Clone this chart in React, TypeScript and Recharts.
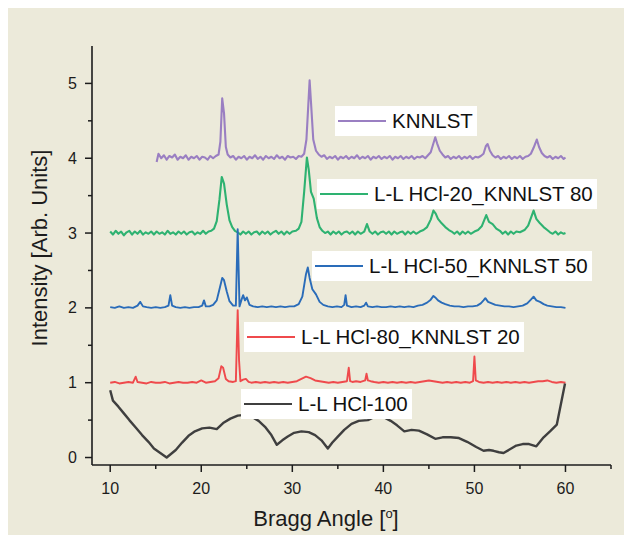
import { LineChart, Line, XAxis, YAxis } from 'recharts'

// 2θ (deg) / offset intensity pairs
const knnlst: [number, number][] = [
  [15.1,3.95],[15.3,4.06],[15.6,4.00],[15.9,4.04],[16.2,3.98],[16.5,4.03],[16.8,4.01],[17.1,4.05],[17.4,3.98],[17.7,4.02],
  [18.0,4.00],[18.3,4.04],[18.6,3.98],[18.9,4.02],[19.2,4.00],[19.5,4.03],[19.8,3.98],[20.1,4.02],[20.4,4.01],[20.7,3.98],
  [21.0,4.03],[21.3,4.00],[21.6,4.03],[21.9,4.05],[22.1,4.22],[22.3,4.80],[22.5,4.60],[22.7,4.15],[22.9,4.05],[23.2,4.01],
  [23.5,4.03],[23.8,3.98],[24.1,4.02],[24.4,4.00],[24.7,4.03],[25.0,3.98],[25.3,4.02],[25.6,4.00],[25.9,4.04],[26.2,3.99],
  [26.5,4.02],[26.8,3.98],[27.1,4.03],[27.4,4.00],[27.7,4.02],[28.0,3.99],[28.3,4.04],[28.6,4.00],[28.9,4.02],[29.2,3.98],
  [29.5,4.03],[29.8,4.01],[30.1,4.02],[30.4,3.99],[30.7,4.03],[31.0,4.02],[31.3,4.06],[31.55,4.25],[31.75,4.70],[31.9,5.04],
  [32.05,4.75],[32.3,4.25],[32.6,4.10],[32.9,4.05],[33.2,4.02],[33.5,4.04],[33.8,3.99],[34.1,4.02],[34.4,4.00],[34.7,4.03],
  [35.0,3.98],[35.3,4.02],[35.6,4.00],[35.9,4.03],[36.2,3.99],[36.5,4.02],[36.8,4.00],[37.1,4.04],[37.4,3.99],[37.7,4.02],
  [38.0,4.00],[38.3,4.03],[38.6,3.98],[38.9,4.02],[39.2,4.00],[39.5,4.03],[39.8,3.99],[40.1,4.02],[40.4,4.00],[40.7,4.03],
  [41.0,3.98],[41.3,4.02],[41.6,4.00],[41.9,4.03],[42.2,3.99],[42.5,4.02],[42.8,4.00],[43.1,4.03],[43.4,3.99],[43.7,4.02],
  [44.0,4.01],[44.3,4.03],[44.6,4.00],[44.9,4.04],[45.2,4.08],[45.45,4.18],[45.7,4.28],[45.9,4.20],[46.2,4.10],[46.5,4.05],
  [46.8,4.01],[47.1,4.03],[47.4,3.99],[47.7,4.02],[48.0,4.00],[48.3,4.03],[48.6,3.99],[48.9,4.02],[49.2,4.00],[49.5,4.03],
  [49.8,3.99],[50.1,4.02],[50.4,4.01],[50.7,4.03],[51.0,4.06],[51.25,4.16],[51.45,4.19],[51.7,4.10],[52.0,4.04],[52.3,4.01],
  [52.6,4.03],[52.9,3.99],[53.2,4.02],[53.5,4.00],[53.8,4.03],[54.1,3.99],[54.4,4.02],[54.7,4.00],[55.0,4.03],[55.3,3.99],
  [55.6,4.02],[55.9,4.03],[56.2,4.06],[56.5,4.14],[56.85,4.25],[57.1,4.15],[57.4,4.07],[57.7,4.03],[58.0,4.01],[58.3,4.03],
  [58.6,3.99],[58.9,4.02],[59.2,4.00],[59.5,4.03],[59.8,3.99],[60.0,4.01],
]

const hcl20: [number, number][] = [
  [10.0,3.02],[10.3,2.98],[10.6,3.03],[10.9,2.99],[11.2,3.02],[11.5,2.97],[11.8,3.01],[12.1,3.03],[12.4,2.98],[12.7,3.02],
  [13.0,2.99],[13.3,3.03],[13.6,2.98],[13.9,3.01],[14.2,2.99],[14.5,3.02],[14.8,2.98],[15.1,3.02],[15.4,2.99],[15.7,3.01],
  [16.0,2.98],[16.3,3.03],[16.6,2.99],[16.9,3.01],[17.2,2.98],[17.5,3.02],[17.8,2.99],[18.1,3.02],[18.4,2.98],[18.7,3.01],
  [19.0,3.02],[19.3,2.98],[19.6,3.01],[19.9,2.99],[20.2,3.03],[20.5,2.99],[20.8,3.02],[21.1,3.03],[21.4,3.06],[21.7,3.16],
  [22.0,3.45],[22.25,3.75],[22.5,3.66],[22.8,3.38],[23.1,3.17],[23.4,3.08],[23.7,3.03],[24.0,3.01],[24.3,2.98],[24.6,3.02],
  [24.9,2.99],[25.2,3.02],[25.5,2.98],[25.8,3.01],[26.1,3.02],[26.4,2.98],[26.7,3.02],[27.0,2.99],[27.3,3.02],[27.6,2.98],
  [27.9,3.01],[28.2,3.03],[28.5,2.99],[28.8,3.02],[29.1,2.98],[29.4,3.02],[29.7,2.99],[30.0,3.02],[30.4,3.03],[30.7,3.06],
  [31.0,3.15],[31.3,3.55],[31.6,4.01],[31.8,3.85],[32.05,3.55],[32.35,3.46],[32.7,3.20],[33.0,3.08],[33.3,3.03],[33.6,3.00],
  [33.9,3.02],[34.2,2.98],[34.5,3.02],[34.8,2.99],[35.1,3.02],[35.4,2.98],[35.7,3.01],[36.0,3.02],[36.3,2.99],[36.6,3.02],
  [36.9,2.98],[37.2,3.02],[37.5,2.99],[37.9,3.02],[38.2,3.12],[38.5,3.02],[38.8,2.99],[39.1,3.02],[39.4,2.98],[39.7,3.01],
  [40.0,3.02],[40.3,2.99],[40.6,3.02],[40.9,2.98],[41.2,3.02],[41.5,2.99],[41.8,3.01],[42.1,3.02],[42.4,2.98],[42.7,3.02],
  [43.0,2.99],[43.3,3.02],[43.6,2.99],[44.0,3.02],[44.4,3.04],[44.8,3.08],[45.2,3.18],[45.5,3.30],[45.75,3.26],[46.0,3.19],
  [46.4,3.13],[46.8,3.08],[47.2,3.04],[47.5,3.02],[47.8,2.99],[48.1,3.02],[48.4,2.98],[48.7,3.02],[49.0,2.99],[49.3,3.02],
  [49.6,2.99],[50.0,3.02],[50.4,3.04],[50.8,3.09],[51.1,3.18],[51.3,3.24],[51.6,3.15],[52.0,3.12],[52.4,3.06],[52.8,3.03],
  [53.1,2.99],[53.4,3.02],[53.7,2.98],[54.0,3.02],[54.3,2.99],[54.6,3.02],[55.0,3.01],[55.5,3.04],[55.9,3.10],[56.2,3.20],
  [56.5,3.30],[56.8,3.19],[57.2,3.13],[57.6,3.08],[58.0,3.04],[58.3,3.01],[58.6,2.99],[58.9,3.02],[59.2,2.98],[59.5,3.01],
  [59.8,2.99],[60.0,3.00],
]

const hcl50: [number, number][] = [
  [10.0,2.01],[10.5,2.00],[11.0,2.02],[11.5,2.00],[12.0,2.01],[12.5,2.00],[13.0,2.03],[13.3,2.08],[13.6,2.02],[14.0,2.01],
  [14.5,2.00],[15.0,2.01],[15.5,2.00],[16.0,2.01],[16.4,2.03],[16.6,2.17],[16.8,2.03],[17.2,2.01],[17.7,2.00],[18.2,2.01],
  [18.7,2.00],[19.2,2.01],[19.7,2.01],[20.1,2.03],[20.3,2.10],[20.5,2.02],[20.9,2.02],[21.3,2.04],[21.7,2.10],[22.0,2.25],
  [22.3,2.40],[22.5,2.37],[22.8,2.22],[23.1,2.09],[23.5,2.03],[23.8,2.03],[24.0,3.05],[24.2,2.02],[24.45,2.12],[24.6,2.17],
  [24.8,2.10],[25.0,2.14],[25.3,2.04],[25.7,2.02],[26.2,2.01],[26.7,2.02],[27.2,2.01],[27.7,2.02],[28.2,2.01],[28.7,2.02],
  [29.2,2.01],[29.7,2.02],[30.2,2.02],[30.7,2.05],[31.1,2.15],[31.5,2.45],[31.7,2.54],[31.9,2.40],[32.2,2.25],[32.6,2.18],
  [33.0,2.08],[33.4,2.04],[33.9,2.02],[34.4,2.01],[34.9,2.02],[35.4,2.01],[35.7,2.04],[35.85,2.17],[36.0,2.03],[36.5,2.01],
  [37.0,2.02],[37.5,2.01],[37.9,2.03],[38.1,2.07],[38.3,2.02],[38.8,2.01],[39.3,2.02],[39.8,2.01],[40.3,2.01],[40.8,2.02],
  [41.3,2.01],[41.8,2.02],[42.3,2.01],[42.8,2.02],[43.3,2.01],[43.8,2.03],[44.3,2.04],[44.8,2.07],[45.2,2.11],[45.5,2.16],
  [45.7,2.14],[46.0,2.10],[46.4,2.07],[46.8,2.05],[47.3,2.03],[47.8,2.02],[48.3,2.02],[48.8,2.01],[49.3,2.02],[49.8,2.02],
  [50.3,2.03],[50.7,2.06],[51.0,2.10],[51.2,2.13],[51.5,2.08],[51.9,2.06],[52.3,2.04],[52.8,2.03],[53.3,2.02],[53.8,2.02],
  [54.3,2.01],[54.8,2.02],[55.3,2.03],[55.8,2.06],[56.2,2.11],[56.5,2.15],[56.8,2.10],[57.2,2.08],[57.6,2.05],[58.0,2.03],
  [58.5,2.02],[59.0,2.01],[59.5,2.01],[60.0,2.00],
]

const hcl80: [number, number][] = [
  [10.0,1.00],[10.5,1.01],[11.0,0.99],[11.5,1.00],[12.0,1.01],[12.5,1.00],[12.8,1.08],[13.0,1.01],[13.5,1.00],[14.0,0.99],
  [14.5,1.01],[15.0,1.00],[15.5,1.00],[16.0,1.01],[16.5,0.99],[17.0,1.00],[17.5,1.01],[18.0,1.00],[18.5,1.00],[19.0,1.01],
  [19.5,1.00],[20.0,1.03],[20.5,1.00],[21.0,1.01],[21.5,1.02],[21.9,1.06],[22.2,1.22],[22.4,1.20],[22.7,1.05],[23.0,1.02],
  [23.5,1.01],[23.8,1.02],[24.0,1.97],[24.15,1.30],[24.3,1.02],[24.6,1.04],[24.9,1.05],[25.2,1.01],[25.5,1.00],[26.0,1.01],
  [26.5,1.00],[27.0,1.01],[27.5,1.00],[28.0,1.01],[28.5,1.00],[29.0,1.01],[29.5,1.00],[30.0,1.01],[30.5,1.02],[31.0,1.05],
  [31.5,1.08],[32.0,1.06],[32.5,1.03],[33.0,1.02],[33.5,1.01],[34.0,1.00],[34.5,1.01],[35.0,1.00],[35.5,1.01],[36.0,1.02],
  [36.2,1.20],[36.35,1.02],[36.6,1.01],[37.0,1.02],[37.5,1.01],[38.0,1.03],[38.15,1.12],[38.3,1.03],[38.6,1.02],[39.0,1.01],
  [39.5,1.00],[40.0,1.01],[40.5,1.00],[41.0,1.01],[41.5,1.00],[42.0,1.01],[42.5,1.00],[43.0,1.01],[43.5,1.00],[44.0,1.01],
  [44.5,1.02],[45.0,1.03],[45.5,1.02],[46.0,1.01],[46.5,1.00],[47.0,1.01],[47.5,1.00],[48.0,1.01],[48.5,1.00],[49.0,1.01],
  [49.5,1.00],[49.85,1.02],[50.0,1.35],[50.15,1.03],[50.5,1.01],[51.0,1.00],[51.5,1.01],[52.0,1.00],[52.5,1.01],[53.0,1.00],
  [53.5,1.01],[54.0,1.00],[54.5,1.01],[55.0,1.00],[55.5,1.01],[56.0,1.00],[56.5,1.01],[57.0,1.02],[57.5,1.02],[58.0,1.03],
  [58.5,1.01],[59.0,1.00],[59.5,1.01],[60.0,1.00],
]

const hcl100: [number, number][] = [
  [10.0,0.90],[10.3,0.76],[10.9,0.68],[11.5,0.59],[12.1,0.50],[12.8,0.40],[13.5,0.30],[14.2,0.21],[14.8,0.12],[15.5,0.06],
  [16.2,0.00],[16.7,0.05],[17.2,0.10],[17.9,0.20],[18.6,0.29],[19.3,0.35],[20.1,0.39],[20.9,0.40],[21.7,0.38],[22.4,0.46],
  [23.2,0.52],[24.0,0.56],[24.8,0.57],[25.5,0.55],[26.3,0.49],[27.0,0.41],[27.7,0.30],[28.3,0.17],[28.9,0.23],[29.5,0.28],
  [30.2,0.33],[31.0,0.35],[31.8,0.34],[32.5,0.30],[33.2,0.23],[33.9,0.12],[34.4,0.20],[35.0,0.28],[35.7,0.37],[36.5,0.45],
  [37.3,0.49],[38.3,0.50],[38.8,0.53],[39.5,0.55],[40.2,0.53],[40.8,0.49],[41.5,0.43],[42.3,0.35],[43.1,0.37],[43.9,0.36],
  [44.8,0.31],[45.7,0.25],[46.5,0.27],[47.4,0.27],[48.3,0.26],[49.2,0.21],[50.2,0.14],[51.0,0.09],[51.6,0.10],[52.1,0.09],
  [52.7,0.07],[53.2,0.06],[53.9,0.11],[54.6,0.16],[55.3,0.18],[56.0,0.18],[56.8,0.15],[57.6,0.27],[58.3,0.35],[59.05,0.44],
  [59.95,0.99],
]

const xTicks = [10, 15, 20, 25, 30, 35, 40, 45, 50, 55, 60, 65]
const yTicks = [0, 0.5, 1, 1.5, 2, 2.5, 3, 3.5, 4, 4.5, 5]

const SERIES = [
  { name: 'KNNLST', points: knnlst, color: '#9a7fc2', width: 2.1 },
  { name: 'L-L HCl-20_KNNLST 80', points: hcl20, color: '#2eb271', width: 2.1 },
  { name: 'L-L HCl-50_KNNLST 50', points: hcl50, color: '#2a6cb9', width: 1.9 },
  { name: 'L-L HCl-80_KNNLST 20', points: hcl80, color: '#ef4a4c', width: 1.9 },
  { name: 'L-L HCl-100', points: hcl100, color: '#3f3f3f', width: 2.4 },
]

// legend boxes sit next to their curves
const LEGEND_POS = [
  { left: 327, top: 98 },
  { left: 309, top: 171 },
  { left: 304, top: 243 },
  { left: 236, top: 314 },
  { left: 233, top: 381 },
]

const FONT = '"Liberation Sans", Arial, sans-serif'
const INK = '#1c1c1c'
const BG = '#eceada'

const isMajor = (v: number) => Number.isInteger(v) && (v >= 10 ? v % 10 === 0 : true)

const BottomTick = ({ x, y, payload }: any) => {
  const v = payload.value
  const major = v % 10 === 0
  return (
    <g>
      <line x1={x} x2={x} y1={y} y2={y + (major ? 7 : 4)} stroke={INK} strokeWidth={1.5} />
      {major && (
        <text x={x} y={y + 23} textAnchor="middle" dominantBaseline="central" fontSize={16} fill={INK} fontFamily={FONT}>
          {v}
        </text>
      )}
    </g>
  )
}

const TopTick = ({ x, y, payload }: any) => {
  const major = payload.value % 10 === 0
  return <line x1={x} x2={x} y1={y} y2={y + (major ? 6 : 4)} stroke={INK} strokeWidth={1.5} />
}

const LeftTick = ({ x, y, payload }: any) => {
  const v = payload.value
  const major = isMajor(v)
  return (
    <g>
      <line x1={x} x2={x - (major ? 7 : 4)} y1={y} y2={y} stroke={INK} strokeWidth={1.5} />
      {major && (
        <text x={x - 15} y={y} textAnchor="end" dominantBaseline="central" fontSize={16} fill={INK} fontFamily={FONT}>
          {v}
        </text>
      )}
    </g>
  )
}

const RightTick = ({ x, y, payload }: any) => {
  const major = isMajor(payload.value)
  return <line x1={x} x2={x - (major ? 6 : 4)} y1={y} y2={y} stroke={INK} strokeWidth={1.5} />
}

export default function App() {
  return (
    <div style={{ position: 'relative', width: 624, height: 527, background: BG, fontFamily: FONT }}>
      <LineChart width={624} height={527} margin={{ top: 38, right: 21, bottom: 30, left: 34 }}>
        <XAxis
          xAxisId="b" type="number" dataKey="x" domain={[8, 65]} ticks={xTicks} interval={0}
          height={40} tickSize={0} tickMargin={0} tickLine={false} tick={<BottomTick />}
          axisLine={{ stroke: INK, strokeWidth: 1.6 }} allowDataOverflow
        />
        <XAxis
          xAxisId="t" orientation="top" type="number" dataKey="x" domain={[8, 65]} ticks={xTicks} interval={0}
          height={0} tickSize={0} tickMargin={0} tickLine={false} tick={<TopTick />}
          axisLine={{ stroke: INK, strokeWidth: 1.6 }} allowDataOverflow
        />
        <YAxis
          yAxisId="l" type="number" domain={[-0.1, 5.5]} ticks={yTicks} interval={0}
          width={50} tickSize={0} tickMargin={0} tickLine={false} tick={<LeftTick />}
          axisLine={{ stroke: INK, strokeWidth: 1.6 }} allowDataOverflow
        />
        <YAxis
          yAxisId="r" orientation="right" type="number" domain={[-0.1, 5.5]} ticks={yTicks} interval={0}
          width={0} tickSize={0} tickMargin={0} tickLine={false} tick={<RightTick />}
          axisLine={{ stroke: INK, strokeWidth: 1.6 }} allowDataOverflow
        />
        {SERIES.map((s) => (
          <Line
            key={s.name}
            xAxisId="b"
            yAxisId="l"
            data={s.points.map(([x, y]) => ({ x, y }))}
            dataKey="y"
            type="linear"
            stroke={s.color}
            strokeWidth={s.width}
            strokeLinejoin="round"
            dot={false}
            activeDot={false}
            isAnimationActive={false}
          />
        ))}
      </LineChart>

      {SERIES.map((s, i) => (
        <div
          key={s.name}
          style={{
            position: 'absolute',
            left: LEGEND_POS[i].left,
            top: LEGEND_POS[i].top,
            height: 30,
            display: 'flex',
            alignItems: 'center',
            background: '#ffffff',
            padding: '0 4px 0 3px',
            fontSize: 20.5,
            color: '#111',
            whiteSpace: 'nowrap',
          }}
        >
          <span style={{ display: 'inline-block', width: 48, height: 2.5, background: s.color, marginRight: 6 }} />
          {s.name}
        </div>
      ))}

      <div style={{ position: 'absolute', left: 32, top: 240, width: 0, height: 0 }}>
        <div
          style={{
            position: 'absolute', left: 0, top: 0, transform: 'translate(-50%, -50%) rotate(-90deg)',
            fontSize: 22, color: INK, whiteSpace: 'nowrap',
          }}
        >
          Intensity [Arb. Units]
        </div>
      </div>
      <div
        style={{
          position: 'absolute', left: 318, top: 511, transform: 'translate(-50%, -50%)',
          fontSize: 22, color: INK, whiteSpace: 'nowrap',
        }}
      >
        Bragg Angle [<sup style={{ fontSize: 13 }}>o</sup>]
      </div>
    </div>
  )
}
